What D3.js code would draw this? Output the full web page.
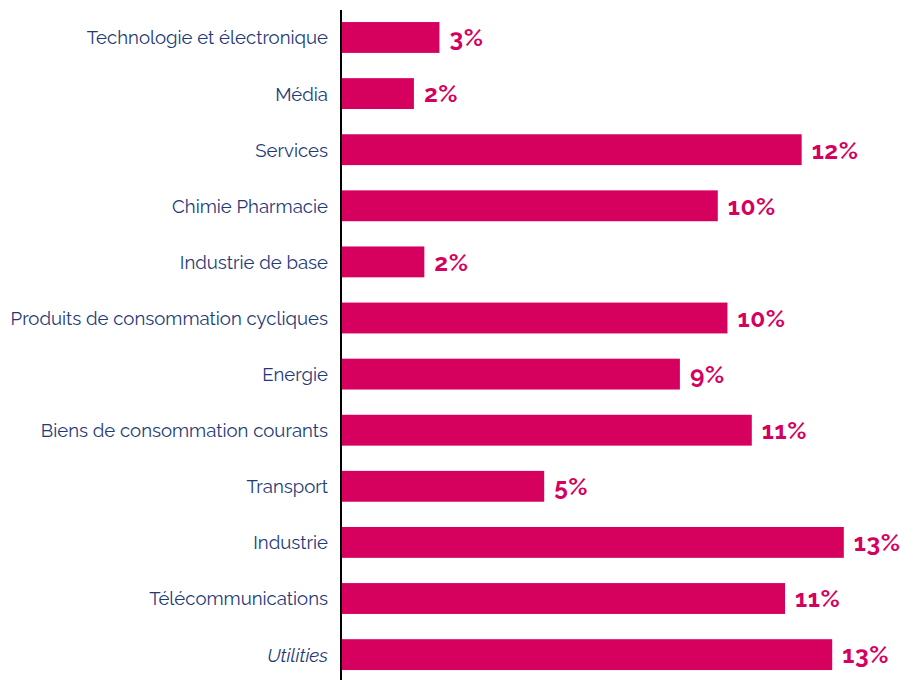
<!DOCTYPE html>
<html>
<head>
<meta charset="utf-8">
<script src="https://cdn.jsdelivr.net/npm/d3@7"></script>
<style>
  html, body { margin: 0; padding: 0; background: #ffffff; }
  svg { display: block; }
</style>
</head>
<body>
<div id="chart"></div>
<script>
// Sector breakdown (% of total)
const sectors = [
  "Technologie et électronique",
  "Média",
  "Services",
  "Chimie Pharmacie",
  "Industrie de base",
  "Produits de consommation cycliques",
  "Energie",
  "Biens de consommation courants",
  "Transport",
  "Industrie",
  "Télécommunications",
  "Utilities"
];
const shares = [2.52, 1.86, 11.89, 9.72, 2.13, 9.97, 8.74, 10.60, 5.23, 12.98, 11.46, 12.68];
const italicSectors = ["Utilities"];

const width = 906, height = 680;
const barColor = "#d6005f";
const labelColor = "#1e3a78";
const fontFamily = "Raleway, Lato, 'Open Sans', sans-serif";

const data = sectors.map((s, i) => ({ sector: s, value: shares[i] }));

const svg = d3.select("#chart").append("svg")
  .attr("width", width)
  .attr("height", height);

const x = d3.scaleLinear()
  .domain([0, 13])
  .range([342, 342 + 38.66 * 13]);

const y = d3.scaleBand()
  .domain(sectors)
  .range([-3.2, 695.3])
  .paddingInner(0.45)
  .paddingOuter(0.45);

// Bars
svg.append("g").selectAll("rect")
  .data(data)
  .join("rect")
  .attr("x", x(0))
  .attr("y", d => y(d.sector))
  .attr("width", d => x(d.value) - x(0))
  .attr("height", y.bandwidth())
  .attr("fill", barColor);

// Value labels
svg.append("g").selectAll("text")
  .data(data)
  .join("text")
  .attr("x", d => x(d.value) + 10)
  .attr("y", d => y(d.sector) + y.bandwidth() / 2)
  .attr("dy", "0.36em")
  .attr("fill", barColor)
  .attr("font-family", fontFamily)
  .attr("font-weight", 700)
  .attr("font-size", 24.5)
  .attr("letter-spacing", 0.6)
  .text(d => d3.format(".0f")(d.value) + "%");

// Category axis
const axis = d3.axisLeft(y).tickSize(0).tickPadding(13);
const gAxis = svg.append("g")
  .attr("transform", `translate(${x(0) - 1},1)`)
  .call(axis);

gAxis.select(".domain").remove();
gAxis.selectAll("text")
  .attr("fill", labelColor)
  .attr("font-family", fontFamily)
  .attr("font-size", 18.6)
  .attr("font-style", d => italicSectors.includes(d) ? "italic" : "normal");

// Vertical baseline
svg.append("line")
  .attr("x1", x(0) - 1).attr("x2", x(0) - 1)
  .attr("y1", 10).attr("y2", height)
  .attr("stroke", "#000")
  .attr("stroke-width", 2);
</script>
</body>
</html>
